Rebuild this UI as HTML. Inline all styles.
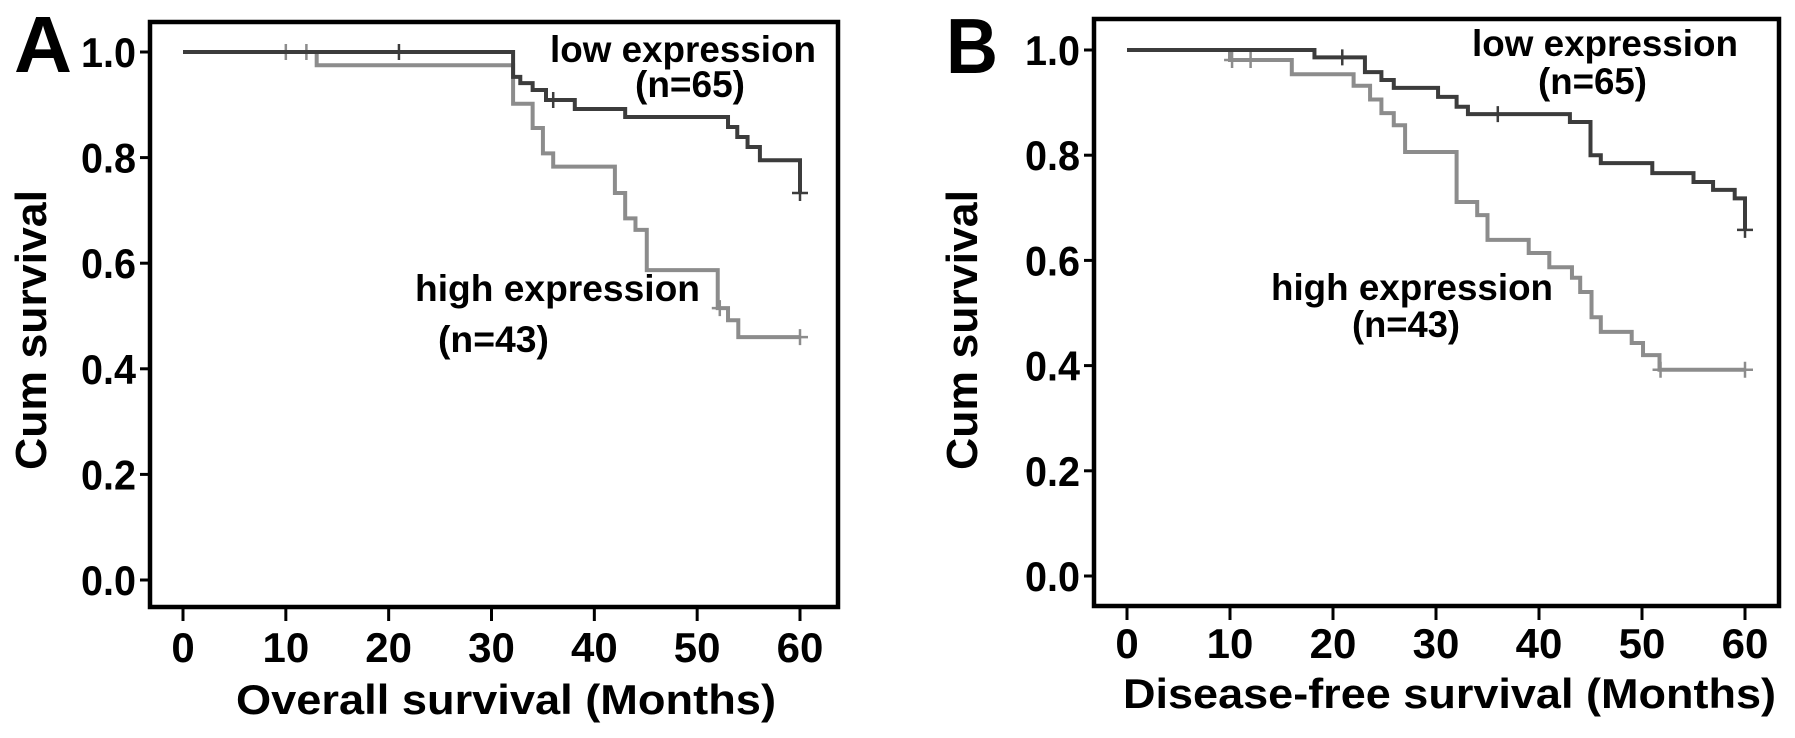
<!DOCTYPE html>
<html><head><meta charset="utf-8"><style>
html,body{margin:0;padding:0;background:#fff;}
svg{display:block;}
text{font-family:"Liberation Sans Narrow","Liberation Sans",sans-serif;font-weight:bold;fill:#000;}
</style></head><body>
<svg id="chart" width="1795" height="738" viewBox="0 0 1795 738" xmlns="http://www.w3.org/2000/svg"></svg>
<script>
// ---- data ----
const xTicks = [0,10,20,30,40,50,60];
const yTicks = [0.0,0.2,0.4,0.6,0.8,1.0];
const yTickLabels = ["0.0","0.2","0.4","0.6","0.8","1.0"];
// Panel A (overall survival)
const aLowTimes = [0,32.1,32.8,34.0,35.3,38.1,43.0,53.0,53.9,54.9,56.1,60];
const aLowSurv  = [1.0,0.953,0.941,0.928,0.909,0.892,0.877,0.858,0.839,0.820,0.795,0.733];
const aLowCensor = [21,36,60];
const aHighTimes = [0,13,32.1,34,35,36,42,43,44,45.1,52,53,54,60];
const aHighSurv  = [1.0,0.975,0.902,0.856,0.808,0.783,0.733,0.685,0.663,0.587,0.515,0.492,0.46,0.46];
const aHighCensor = [10,12,52.2,60];
// Panel B (disease-free survival)
const bLowTimes = [0,18.2,23.1,24.7,25.9,30.2,32,33.1,43,45,46,51,55,56.9,59,60];
const bLowSurv  = [1.0,0.986,0.958,0.943,0.928,0.911,0.892,0.878,0.863,0.800,0.785,0.766,0.749,0.734,0.718,0.658];
const bLowCensor = [20.9,36,60];
const bHighTimes = [0,10,16,22,23.6,24.7,25.9,27,32,34,35,39,41,43.2,44,45.1,46,49,50.1,51.7,60];
const bHighSurv  = [1.0,0.981,0.954,0.932,0.906,0.880,0.857,0.806,0.711,0.686,0.639,0.614,0.587,0.567,0.540,0.492,0.464,0.443,0.420,0.392,0.392];
const bHighCensor = [10.2,12,51.8,60];

const NS="http://www.w3.org/2000/svg";
const svg=document.getElementById('chart');
function mk(tag,attrs,parent){const e=document.createElementNS(NS,tag);for(const k in attrs)e.setAttribute(k,attrs[k]);(parent||svg).appendChild(e);return e;}

function panel(cfg){
  const g=mk('g',{});
  
  
  const sx=t=>cfg.x0+(cfg.x60-cfg.x0)*t/60;
  const sy=s=>cfg.y0-(cfg.y0-cfg.y1)*s;
  const fr=mk('rect',{x:cfg.fl,y:cfg.ft,width:cfg.fr-cfg.fl,height:cfg.fb-cfg.ft,fill:'none',stroke:'#000','stroke-width':4.5},g);
  
  
  yTicks.forEach((v,i)=>{
    const y=sy(v);
    const tk=mk('line',{x1:cfg.fl-10,x2:cfg.fl,y1:y,y2:y,stroke:'#000','stroke-width':3},g);
    
    
    const tl=mk('text',{x:cfg.fl-14,y:y+15,'text-anchor':'end','font-size':42,textLength:55,lengthAdjust:'spacingAndGlyphs'},g);
    tl.textContent=yTickLabels[i];
    
    
  });
  xTicks.forEach(v=>{
    const x=sx(v);
    const tk=mk('line',{x1:x,x2:x,y1:cfg.fb,y2:cfg.fb+14,stroke:'#000','stroke-width':3},g);
    
    
    const tl=mk('text',{x:x,y:cfg.xlabY,'text-anchor':'middle','font-size':42},g);
    tl.textContent=String(v);
    
    
  });
  function series(times,surv,censor,color,name){
    let d='M'+sx(times[0])+','+sy(surv[0]);
    for(let i=1;i<times.length;i++){d+=' H'+sx(times[i])+' V'+sy(surv[i]);}
    const p=mk('path',{d:d,fill:'none',stroke:color,'stroke-width':4,'stroke-linejoin':'miter'},g);
    
    
    censor.forEach(t=>{
      let s=surv[0];
      for(let i=0;i<times.length;i++){if(times[i]<=t)s=surv[i];}
      const x=sx(t),y=sy(s);
      const c=mk('path',{d:`M${x},${y-8} V${y+8} M${x-8},${y} H${x+8}`,stroke:color,'stroke-width':2.5,fill:'none'},g);
      
      
    });
  }
  series(cfg.high[0],cfg.high[1],cfg.high[2],'#8c8c8c','high-expression');
  series(cfg.low[0],cfg.low[1],cfg.low[2],'#3c3c3c','low-expression');
  cfg.texts.forEach(t=>{
    const e=mk('text',{x:t.x,y:t.y,'font-size':t.fs,textLength:t.w,lengthAdjust:'spacingAndGlyphs'},g);
    if(t.rot)e.setAttribute('transform',`rotate(-90 ${t.x} ${t.y})`);
    e.textContent=t.s;
    
    
  });
}

panel({name:'panel-a-overall-survival',x0:183,x60:800,y0:580,y1:52,fl:150,fr:838,ft:22,fb:607,xlabY:662,
  low:[aLowTimes,aLowSurv,aLowCensor],high:[aHighTimes,aHighSurv,aHighCensor],
  texts:[
    {s:'A',x:14,y:72,fs:80,w:58,n:'panel-label-a'},
    {s:'Cum survival',x:46,y:470,fs:44,w:280,rot:true,n:'y-axis-title'},
    {s:'Overall survival (Months)',x:236,y:714,fs:42,w:540,n:'x-axis-title'},
    {s:'low expression',x:550,y:62,fs:37,w:266,n:'low-expression-label'},
    {s:'(n=65)',x:635,y:97,fs:37,w:110,n:'low-n-label'},
    {s:'high expression',x:415,y:301,fs:37,w:285,n:'high-expression-label'},
    {s:'(n=43)',x:438,y:352,fs:37,w:111,n:'high-n-label'}
  ]});
panel({name:'panel-b-disease-free-survival',x0:1127,x60:1745,y0:576,y1:50,fl:1094,fr:1779,ft:19,fb:606,xlabY:658,
  low:[bLowTimes,bLowSurv,bLowCensor],high:[bHighTimes,bHighSurv,bHighCensor],
  texts:[
    {s:'B',x:946,y:73,fs:78,w:52,n:'panel-label-b'},
    {s:'Cum survival',x:977,y:470,fs:44,w:280,rot:true,n:'y-axis-title'},
    {s:'Disease-free survival  (Months)',x:1123,y:708,fs:42,w:653,n:'x-axis-title'},
    {s:'low expression',x:1472,y:56,fs:37,w:266,n:'low-expression-label'},
    {s:'(n=65)',x:1538,y:94,fs:37,w:109,n:'low-n-label'},
    {s:'high expression',x:1271,y:300,fs:37,w:282,n:'high-expression-label'},
    {s:'(n=43)',x:1352,y:337,fs:37,w:108,n:'high-n-label'}
  ]});
</script>
</body></html>
